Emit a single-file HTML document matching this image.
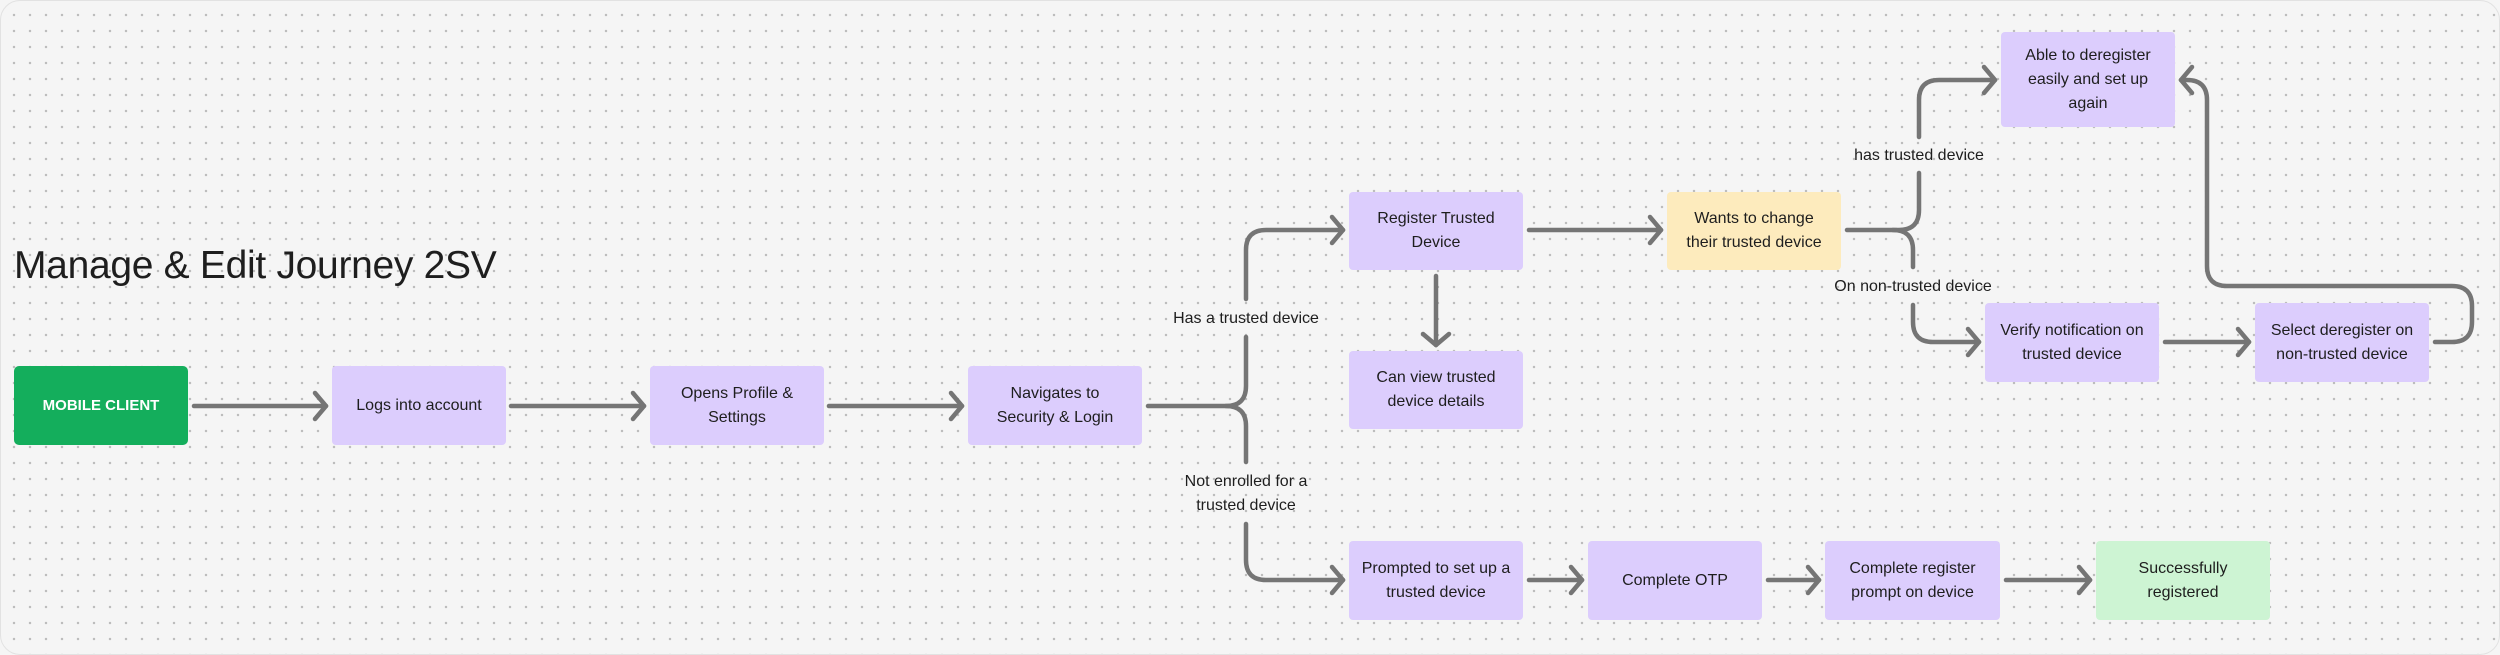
<!DOCTYPE html>
<html><head><meta charset="utf-8"><style>
html,body{margin:0;padding:0}
body{width:2500px;height:655px;overflow:hidden;background:#f5f5f5;position:relative;font-family:"Liberation Sans",sans-serif}
.bg{position:absolute;left:0;top:0;width:2498px;height:653px;border:1px solid #e2e2e2;border-radius:20px;
background-image:radial-gradient(circle,#bdbdbd 1.1px,transparent 1.4px);background-size:16px 16px;background-position:5px 6px}
.box{position:absolute;background:#dccdfd;border-radius:4px;display:flex;align-items:center;justify-content:center;text-align:center;font-size:16px;line-height:24px;color:#1e1e1e;box-sizing:border-box;padding:0 8px}
.y{background:#fdebbd}.g{background:#cdf4d3}
.mc{background:#14ae5c;color:#fff;font-weight:bold;font-size:15px;border-radius:5px}
.lbl{position:absolute;font-size:16px;line-height:24px;color:#1e1e1e;text-align:center;transform:translateX(-50%);white-space:nowrap}
h1{position:absolute;left:14px;top:244px;margin:0;font-weight:normal;font-size:39px;color:#1e1e1e;letter-spacing:-0.3px}
svg{position:absolute;left:0;top:0}
</style></head><body>
<div class="bg"></div>
<h1>Manage &amp; Edit Journey 2SV</h1>
<svg width="2500" height="655">
<defs><marker id="m" viewBox="-16 -16 20 32" markerWidth="20" markerHeight="32" refX="0" refY="0" orient="auto" markerUnits="userSpaceOnUse">
<path d="M-11,-13 L0,0 L-11,13" fill="none" stroke="#757575" stroke-width="4.5" stroke-linecap="round" stroke-linejoin="round"/></marker></defs>
<g fill="none" stroke="#757575" stroke-width="4.5" stroke-linecap="round">
<path d="M194 406 H326" marker-end="url(#m)"/>
<path d="M511 406 H644" marker-end="url(#m)"/>
<path d="M829 406 H962" marker-end="url(#m)"/>
<path d="M1148 406 H1226 Q1246 406 1246 386 V337"/>
<path d="M1246 299 V250 Q1246 230 1266 230 H1343" marker-end="url(#m)"/>
<path d="M1226 406 Q1246 406 1246 426 V462"/>
<path d="M1246 524 V560 Q1246 580 1266 580 H1343" marker-end="url(#m)"/>
<path d="M1529 230 H1661" marker-end="url(#m)"/>
<path d="M1436 276 V345" marker-end="url(#m)"/>
<path d="M1847 230 H1899 Q1919 230 1919 210 V173"/>
<path d="M1919 137 V100 Q1919 80 1939 80 H1995" marker-end="url(#m)"/>
<path d="M1893 230 Q1913 230 1913 250 V267"/>
<path d="M1913 305 V322 Q1913 342 1933 342 H1979" marker-end="url(#m)"/>
<path d="M2165 342 H2249" marker-end="url(#m)"/>
<path d="M2435 342 H2452 Q2472 342 2472 322 V306 Q2472 286 2452 286 H2227 Q2207 286 2207 266 V100 Q2207 80 2187 80 H2181" marker-end="url(#m)"/>
<path d="M1529 580 H1582" marker-end="url(#m)"/>
<path d="M1768 580 H1819" marker-end="url(#m)"/>
<path d="M2006 580 H2090" marker-end="url(#m)"/>
</g></svg>
<div class="box mc" style="left:14px;top:366px;width:174px;height:79px">MOBILE CLIENT</div>
<div class="box" style="left:332px;top:366px;width:174px;height:79px">Logs into account</div>
<div class="box" style="left:650px;top:366px;width:174px;height:79px">Opens Profile &amp;<br>Settings</div>
<div class="box" style="left:968px;top:366px;width:174px;height:79px">Navigates to<br>Security &amp; Login</div>
<div class="box" style="left:1349px;top:192px;width:174px;height:78px">Register Trusted<br>Device</div>
<div class="box" style="left:1349px;top:351px;width:174px;height:78px">Can view trusted<br>device details</div>
<div class="box y" style="left:1667px;top:192px;width:174px;height:78px">Wants to change<br>their trusted device</div>
<div class="box" style="left:2001px;top:32px;width:174px;height:95px">Able to deregister<br>easily and set up<br>again</div>
<div class="box" style="left:1985px;top:303px;width:174px;height:79px">Verify notification on<br>trusted device</div>
<div class="box" style="left:2255px;top:303px;width:174px;height:79px">Select deregister on<br>non-trusted device</div>
<div class="box" style="left:1349px;top:541px;width:174px;height:79px">Prompted to set up a<br>trusted device</div>
<div class="box" style="left:1588px;top:541px;width:174px;height:79px">Complete OTP</div>
<div class="box" style="left:1825px;top:541px;width:175px;height:79px">Complete register<br>prompt on device</div>
<div class="box g" style="left:2096px;top:541px;width:174px;height:79px">Successfully<br>registered</div>
<div class="lbl" style="left:1246px;top:307px">Has a trusted device</div>
<div class="lbl" style="left:1246px;top:470px">Not enrolled for a<br>trusted device</div>
<div class="lbl" style="left:1919px;top:144px">has trusted device</div>
<div class="lbl" style="left:1913px;top:275px">On non-trusted device</div>
</body></html>
